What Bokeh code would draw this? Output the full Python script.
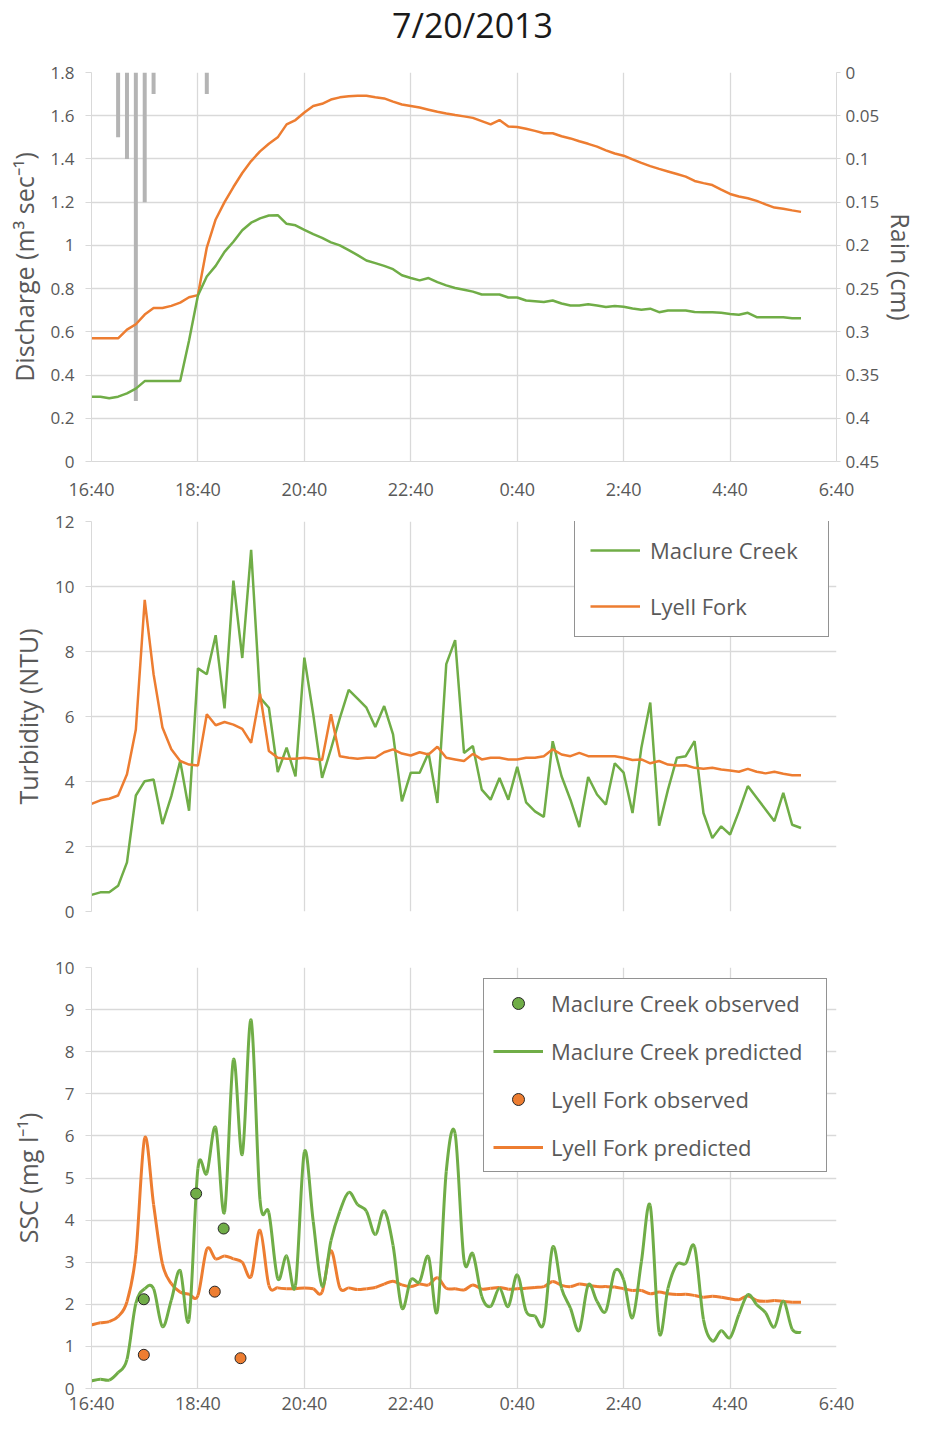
import math
from bokeh.plotting import figure
from bokeh.models import (Range1d, LinearAxis, FixedTicker, NumeralTickFormatter,
                          Legend, LegendItem, Div)
from bokeh.layouts import column
from bokeh.embed import file_html
from bokeh.resources import INLINE

# ---------------- data ----------------
times = ["16:40", "16:50", "17:00", "17:10", "17:20", "17:30", "17:40", "17:50",
         "18:00", "18:10", "18:20", "18:30", "18:40", "18:50", "19:00", "19:10",
         "19:20", "19:30", "19:40", "19:50", "20:00", "20:10", "20:20", "20:30",
         "20:40", "20:50", "21:00", "21:10", "21:20", "21:30", "21:40", "21:50",
         "22:00", "22:10", "22:20", "22:30", "22:40", "22:50", "23:00", "23:10",
         "23:20", "23:30", "23:40", "23:50", "0:00", "0:10", "0:20", "0:30",
         "0:40", "0:50", "1:00", "1:10", "1:20", "1:30", "1:40", "1:50",
         "2:00", "2:10", "2:20", "2:30", "2:40", "2:50", "3:00", "3:10",
         "3:20", "3:30", "3:40", "3:50", "4:00", "4:10", "4:20", "4:30",
         "4:40", "4:50", "5:00", "5:10", "5:20", "5:30", "5:40", "5:50", "6:00"]

discharge_lyell = [
    0.57, 0.57, 0.57, 0.57, 0.61, 0.635, 0.68, 0.71, 0.71, 0.72,
    0.735, 0.76, 0.77, 0.99, 1.12, 1.20, 1.27, 1.335, 1.39, 1.435,
    1.47, 1.50, 1.56, 1.58, 1.615, 1.645, 1.655, 1.675, 1.685, 1.69,
    1.692, 1.692, 1.685, 1.68, 1.665, 1.652, 1.645, 1.638, 1.628, 1.618,
    1.61, 1.603, 1.597, 1.59, 1.575, 1.56, 1.58, 1.55, 1.548, 1.54,
    1.53, 1.519, 1.519, 1.505, 1.495, 1.482, 1.47, 1.457, 1.44, 1.425,
    1.415, 1.398, 1.382, 1.367, 1.354, 1.342, 1.33, 1.318, 1.298, 1.288,
    1.279, 1.258, 1.238, 1.226, 1.218, 1.206, 1.19, 1.175, 1.17, 1.162,
    1.155]

discharge_maclure = [
    0.30, 0.30, 0.293, 0.30, 0.315, 0.337, 0.372, 0.372, 0.372, 0.372,
    0.372, 0.56, 0.768, 0.856, 0.905, 0.97, 1.017, 1.07, 1.105, 1.125,
    1.138, 1.14, 1.10, 1.093, 1.072, 1.052, 1.035, 1.014, 1.0, 0.978,
    0.955, 0.93, 0.918, 0.905, 0.89, 0.862, 0.849, 0.838, 0.849, 0.83,
    0.815, 0.803, 0.795, 0.786, 0.773, 0.773, 0.773, 0.759, 0.759, 0.745,
    0.742, 0.738, 0.745, 0.731, 0.722, 0.722, 0.728, 0.722, 0.715, 0.72,
    0.716, 0.708, 0.702, 0.707, 0.691, 0.699, 0.699, 0.699, 0.692, 0.691,
    0.691, 0.688, 0.683, 0.679, 0.688, 0.668, 0.668, 0.668, 0.668, 0.663,
    0.663]

rain_times = ["17:10", "17:20", "17:30", "17:40", "17:50", "18:50"]
rain_cm = [0.075, 0.10, 0.38, 0.15, 0.025, 0.025]

turb_maclure = [
    0.51, 0.59, 0.59, 0.79, 1.51, 3.57, 4.01, 4.06, 2.69, 3.55,
    4.63, 3.10, 7.48, 7.30, 8.50, 6.25, 10.18, 7.80, 11.13, 6.58,
    6.27, 4.29, 5.04, 4.16, 7.81, 6.07, 4.11, 5.00, 5.95, 6.82,
    6.55, 6.27, 5.68, 6.32, 5.45, 3.39, 4.27, 4.27, 4.88, 3.34,
    7.61, 8.35, 4.88, 5.09, 3.75, 3.44, 4.11, 3.44, 4.45, 3.36,
    3.08, 2.91, 5.24, 4.16, 3.44, 2.60, 4.14, 3.60, 3.29, 4.56,
    4.27, 3.03, 5.04, 6.43, 2.64, 3.75, 4.73, 4.78, 5.24, 3.03,
    2.26, 2.62, 2.37, 3.08, 3.86, 3.50, 3.14, 2.78, 3.65, 2.67,
    2.57]

turb_lyell = [
    3.31, 3.42, 3.47, 3.57, 4.22, 5.60, 9.59, 7.30, 5.66, 4.99,
    4.63, 4.52, 4.49, 6.07, 5.73, 5.83, 5.75, 5.62, 5.19, 6.70,
    4.94, 4.73, 4.70, 4.70, 4.73, 4.70, 4.66, 6.07, 4.78, 4.73,
    4.70, 4.73, 4.73, 4.90, 4.99, 4.86, 4.80, 4.90, 4.83, 5.07,
    4.73, 4.68, 4.63, 4.85, 4.68, 4.73, 4.73, 4.68, 4.68, 4.73,
    4.73, 4.78, 4.99, 4.83, 4.78, 4.88, 4.78, 4.78, 4.78, 4.78,
    4.73, 4.66, 4.68, 4.56, 4.63, 4.52, 4.49, 4.50, 4.42, 4.39,
    4.42, 4.37, 4.34, 4.30, 4.39, 4.30, 4.25, 4.30, 4.24, 4.19,
    4.19]

ssc_maclure_pred = [
    0.18, 0.22, 0.20, 0.38, 0.69, 2.02, 2.37, 2.37, 1.47, 2.10,
    2.80, 1.64, 5.23, 5.11, 6.20, 4.19, 7.81, 5.56, 8.75, 4.48,
    4.17, 2.61, 3.15, 2.45, 5.62, 3.97, 2.43, 3.51, 4.21, 4.66,
    4.37, 4.21, 3.66, 4.22, 3.40, 1.91, 2.58, 2.54, 3.13, 1.84,
    5.16, 6.05, 3.05, 3.20, 2.19, 1.95, 2.38, 1.95, 2.70, 1.84,
    1.72, 1.56, 3.36, 2.38, 1.91, 1.38, 2.46, 2.07, 1.84, 2.79,
    2.58, 1.68, 3.01, 4.34, 1.33, 2.38, 2.95, 2.97, 3.36, 1.64,
    1.13, 1.37, 1.21, 1.76, 2.23, 1.99, 1.80, 1.46, 2.07, 1.41,
    1.33]

ssc_lyell_pred = [
    1.51, 1.56, 1.59, 1.71, 2.06, 3.19, 5.95, 4.37, 2.96, 2.49,
    2.29, 2.24, 2.21, 3.31, 3.08, 3.15, 3.08, 3.00, 2.66, 3.76,
    2.45, 2.39, 2.37, 2.37, 2.39, 2.37, 2.29, 3.27, 2.39, 2.39,
    2.35, 2.37, 2.40, 2.48, 2.55, 2.46, 2.42, 2.48, 2.46, 2.63,
    2.38, 2.37, 2.34, 2.46, 2.36, 2.38, 2.40, 2.36, 2.37, 2.38,
    2.40, 2.42, 2.54, 2.45, 2.42, 2.48, 2.45, 2.42, 2.42, 2.41,
    2.37, 2.33, 2.33, 2.25, 2.29, 2.25, 2.23, 2.24, 2.21, 2.17,
    2.19, 2.17, 2.13, 2.11, 2.20, 2.09, 2.07, 2.09, 2.07, 2.05,
    2.05]

obs_maclure_times = ["17:39", "18:38", "19:09"]
obs_maclure_ssc = [2.12, 4.63, 3.80]
obs_lyell_times = ["17:39", "18:59", "19:28"]
obs_lyell_ssc = [0.80, 2.30, 0.72]

title_text = "7/20/2013"
x_tick_times = ["16:40", "18:40", "20:40", "22:40", "0:40", "2:40", "4:40", "6:40"]
discharge_ticks = [0, 0.2, 0.4, 0.6, 0.8, 1.0, 1.2, 1.4, 1.6, 1.8]
rain_ticks = [0, 0.05, 0.1, 0.15, 0.2, 0.25, 0.3, 0.35, 0.4, 0.45]
turb_ticks = [0, 2, 4, 6, 8, 10, 12]
ssc_ticks = [0, 1, 2, 3, 4, 5, 6, 7, 8, 9, 10]

# ---------------- helpers ----------------
GREEN = "#70AD47"
ORANGE = "#ED7D31"
GRID = "#d9d9d9"
TXT = "#595959"
FONT = "Open Sans"
W = 921


def to_min(t):
    h, m = (int(v) for v in t.split(":"))
    return (h * 60 + m - (16 * 60 + 40)) % 1440


mins = [to_min(t) for t in times]
x_ticks = [to_min(t) for t in x_tick_times]
x_ticks[-1] = 840  # 6:40 next morning


def smooth(xs, ys):
    """Bezier segments through the points (Excel-style smoothed line)."""
    n = len(xs)
    d = dict(x0=[], y0=[], x1=[], y1=[], cx0=[], cy0=[], cx1=[], cy1=[])
    for i in range(n - 1):
        xp, yp = (xs[i - 1], ys[i - 1]) if i > 0 else (xs[i], ys[i])
        xn, yn = (xs[i + 2], ys[i + 2]) if i + 2 < n else (xs[i + 1], ys[i + 1])
        d["x0"].append(xs[i]); d["y0"].append(ys[i])
        d["x1"].append(xs[i + 1]); d["y1"].append(ys[i + 1])
        d["cx0"].append(xs[i] + (xs[i + 1] - xp) / 6.0)
        d["cy0"].append(ys[i] + (ys[i + 1] - yp) / 6.0)
        d["cx1"].append(xs[i + 1] - (xn - xs[i]) / 6.0)
        d["cy1"].append(ys[i + 1] - (yn - ys[i]) / 6.0)
    return d


def make_fig(height, yr, bt, bb):
    p = figure(width=W, height=height, x_range=Range1d(0, 840), y_range=yr,
               output_backend="svg", toolbar_location=None,
               min_border_left=91, min_border_right=84,
               min_border_top=bt, min_border_bottom=bb)
    p.outline_line_color = None
    p.background_fill_color = "white"
    p.border_fill_color = "white"
    p.xgrid.grid_line_color = GRID
    p.ygrid.grid_line_color = GRID
    p.xgrid.grid_line_width = 1.3
    p.ygrid.grid_line_width = 1.3
    p.xaxis.ticker = FixedTicker(ticks=x_ticks)
    p.xaxis.major_label_overrides = {k: v for k, v in zip(x_ticks, x_tick_times)}
    p.xaxis.major_tick_out = 0
    p.xaxis.major_tick_in = 0
    p.xaxis.minor_tick_out = 0
    p.xaxis.axis_line_color = GRID
    p.xaxis.major_label_text_font = FONT
    p.xaxis.major_label_text_font_size = "18px"
    p.xaxis.major_label_text_color = TXT
    p.yaxis.major_tick_out = 6
    p.yaxis.major_tick_in = 0
    p.yaxis.minor_tick_out = 0
    p.yaxis.major_tick_line_color = GRID
    p.yaxis.axis_line_color = GRID
    p.yaxis.major_label_standoff = 11
    p.yaxis.major_label_text_font = FONT
    p.yaxis.major_label_text_font_size = "17px"
    p.yaxis.major_label_text_color = TXT
    p.yaxis.axis_label_text_font = FONT
    p.yaxis.axis_label_text_font_size = "25px"
    p.yaxis.axis_label_text_font_style = "normal"
    p.yaxis.axis_label_text_color = TXT
    p.yaxis.axis_label_standoff = 7
    return p


# ---------------- title ----------------
title = Div(text="<div style=\"width:921px;font-family:'Open Sans';font-size:34px;"
                 "line-height:50px;text-align:center;color:#1a1a1a;\">"
                 "<span style=\"position:relative;left:12px;\">" + title_text +
                 "</span></div>",
            width=W, height=50, margin=0)

# ---------------- panel 1: discharge + rain ----------------
p1 = make_fig(455, Range1d(0, 1.8), 22, 44)
p1.xaxis.major_label_standoff = 15
p1.yaxis.ticker = FixedTicker(ticks=discharge_ticks)
p1.yaxis.formatter = NumeralTickFormatter(format="0.[0]")
p1.yaxis.axis_label = "Discharge (m\u00b3 sec\u207b\u00b9)"

p1.extra_y_ranges = {"rain": Range1d(start=0.45, end=0)}
rain_axis = LinearAxis(y_range_name="rain", axis_label="Rain (cm)",
                       ticker=FixedTicker(ticks=rain_ticks),
                       formatter=NumeralTickFormatter(format="0.[00]"))
rain_axis.major_tick_out = 4
rain_axis.major_tick_in = 0
rain_axis.minor_tick_out = 0
rain_axis.major_tick_line_color = GRID
rain_axis.axis_line_color = GRID
rain_axis.major_label_standoff = 5
rain_axis.major_label_text_font = FONT
rain_axis.major_label_text_font_size = "17px"
rain_axis.major_label_text_color = TXT
rain_axis.axis_label_text_font = FONT
rain_axis.axis_label_text_font_size = "25px"
rain_axis.axis_label_text_font_style = "normal"
rain_axis.axis_label_text_color = TXT
rain_axis.axis_label_standoff = 2
p1.add_layout(rain_axis, "right")

p1.vbar(x=[to_min(t) for t in rain_times], width=4.5, bottom=0, top=rain_cm,
        y_range_name="rain", fill_color="#b4b4b4", line_color=None)
p1.line(mins, discharge_lyell, line_color=ORANGE, line_width=2.5)
p1.line(mins, discharge_maclure, line_color=GREEN, line_width=2.5)

# ---------------- panel 2: turbidity ----------------
p2 = make_fig(430, Range1d(0, 12), 16, 24)
p2.xaxis.visible = False
p2.yaxis.ticker = FixedTicker(ticks=turb_ticks)
p2.yaxis.axis_label = "Turbidity (NTU)"
r_tm = p2.line(mins, turb_maclure, line_color=GREEN, line_width=2.5)
r_tl = p2.line(mins, turb_lyell, line_color=ORANGE, line_width=2.5)
leg2 = Legend(items=[LegendItem(label="Maclure Creek", renderers=[r_tm]),
                     LegendItem(label="Lyell Fork", renderers=[r_tl])],
              location=(483, 274), padding=15, spacing=26, margin=0,
              glyph_width=50, glyph_height=30, label_height=30, label_width=163,
              label_standoff=10, label_text_font=FONT, label_text_font_size="22px",
              label_text_color=TXT, border_line_color="#262626", border_line_width=1.3,
              background_fill_color="white", background_fill_alpha=1.0)
p2.add_layout(leg2)

# ---------------- panel 3: SSC ----------------
p3 = make_fig(482, Range1d(0, 10), 32, 27)
p3.xaxis.major_label_standoff = 2
p3.yaxis.ticker = FixedTicker(ticks=ssc_ticks)
p3.yaxis.axis_label = "SSC (mg l\u207b\u00b9)"
r_lp = p3.bezier(line_color=ORANGE, line_width=3, **smooth(mins, ssc_lyell_pred))
r_mp = p3.bezier(line_color=GREEN, line_width=3, **smooth(mins, ssc_maclure_pred))
r_mo = p3.scatter([to_min(t) for t in obs_maclure_times], obs_maclure_ssc, size=11,
                  fill_color=GREEN, line_color="#262626", line_width=1)
r_lo = p3.scatter([to_min(t) for t in obs_lyell_times], obs_lyell_ssc, size=11,
                  fill_color=ORANGE, line_color="#262626", line_width=1)
leg3 = Legend(items=[LegendItem(label="Maclure Creek observed", renderers=[r_mo]),
                     LegendItem(label="Maclure Creek predicted", renderers=[r_mp]),
                     LegendItem(label="Lyell Fork observed", renderers=[r_lo]),
                     LegendItem(label="Lyell Fork predicted", renderers=[r_lp])],
              location=(392, 216), padding=9, spacing=18, margin=0,
              glyph_width=50, glyph_height=30, label_height=30, label_width=266,
              label_standoff=8, label_text_font=FONT, label_text_font_size="22px",
              label_text_color=TXT, border_line_color="#262626", border_line_width=1.3,
              background_fill_color="white", background_fill_alpha=1.0)
p3.add_layout(leg3)

layout = column(title, p1, p2, p3, spacing=0)
open("out.html", "w").write(file_html(layout, INLINE))
